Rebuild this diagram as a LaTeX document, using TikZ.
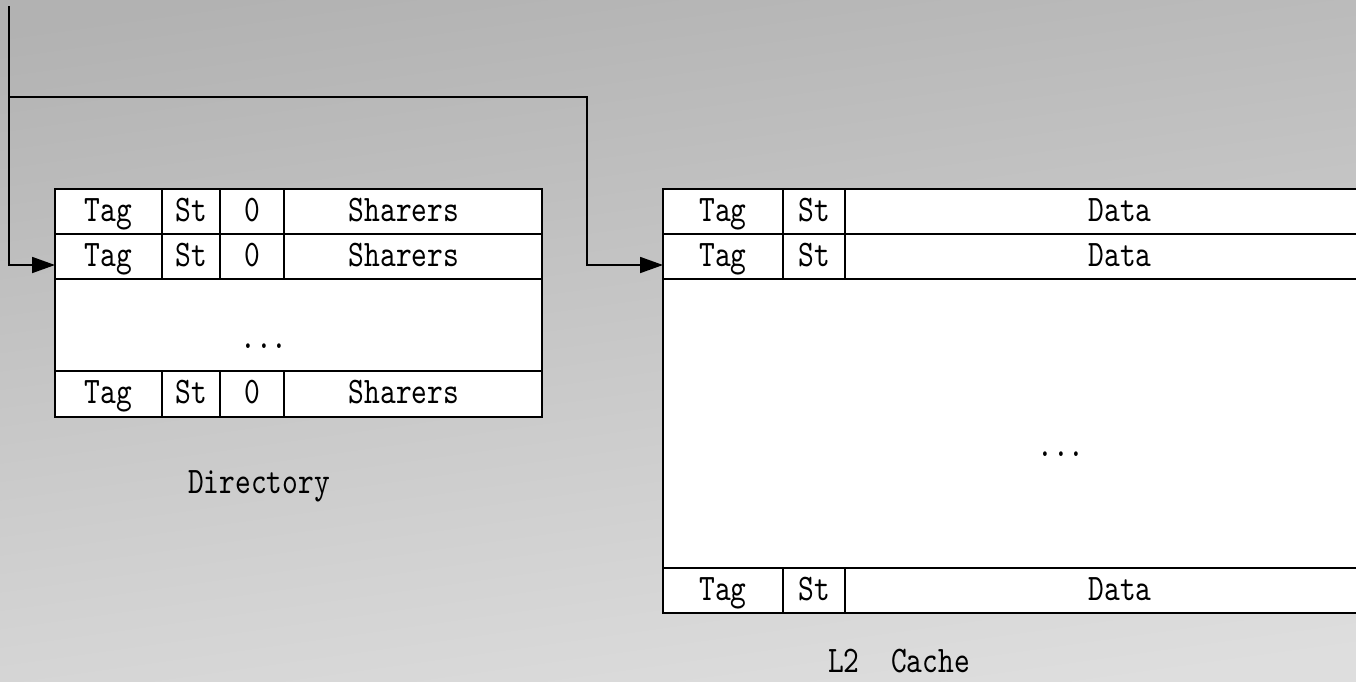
\documentclass[tikz,border=0pt]{standalone}
\usepackage{fontspec}
\usetikzlibrary{arrows.meta,fit}
% narrow, tall monospaced face for all labels
\newfontfamily\cellfont{lmmono10-regular}[Extension=.otf, FakeStretch=0.8]
\definecolor{bgtop}{RGB}{178,178,178}
\definecolor{bgbot}{RGB}{222,222,222}
\tikzset{
  cell/.style={rectangle, draw=black, line width=1.3pt, fill=white, inner sep=0pt, outer sep=0pt},
  rowline/.style={rectangle, draw=black, line width=2pt, inner sep=0pt, outer sep=0pt},
  txt/.style={inner sep=0pt, text height=19pt, text depth=0pt, font=\fontsize{37.5}{44}\cellfont},
  caption/.style={inner sep=0pt, anchor=base, font=\fontsize{37.5}{44}\cellfont},
  conn/.style={line width=1.8pt, line join=miter, -{Triangle[length=23pt,width=16pt]}}
}
\begin{document}
\begin{tikzpicture}[x=1pt,y=-1pt]
\useasboundingbox (0,0) rectangle (1356,681);
\clip (0,0) rectangle (1356,681);
% background
\shade[top color=bgtop, bottom color=bgbot, shading angle=8] (-20,-20) rectangle (1376,701);

% ---------------- Directory ----------------
\foreach \r/\yc/\h in {1/211.5/45, 2/256.5/45, 3/394/46} {
  \node[cell, minimum width=107, minimum height=\h] (dtag\r) at (108.5,\yc) {};
  \node[cell, minimum width=58,  minimum height=\h] (dst\r)  at (191,\yc) {};
  \node[cell, minimum width=64,  minimum height=\h] (dz\r)   at (252,\yc) {};
  \node[cell, minimum width=258, minimum height=\h] (dsh\r)  at (413,\yc) {};
  \node[rowline, fit=(dtag\r)(dsh\r)] (drow\r) {};
  \node[txt] (dtagT\r) at (108.5,\yc) {Tag};
  \node[txt] (dstT\r)  at (191,\yc) {St};
  \node[txt] (dzT\r)   at (252,\yc) {0};
  \node[txt] (dshT\r)  at (404,\yc) {Sharers};
}
\node[rowline, fill=white, minimum width=487, minimum height=92] (dbody) at (298.5,325) {};
\node[caption] (ddots) at (264,348) {...};
\node[caption] (dirlabel) at (259,493) {Directory};

% ---------------- L2 cache ----------------
\foreach \r/\yc/\h in {1/211.5/45, 2/256.5/45, 3/590.5/45} {
  \node[cell, minimum width=120, minimum height=\h] (ctag\r) at (723,\yc) {};
  \node[cell, minimum width=62,  minimum height=\h] (cst\r)  at (814,\yc) {};
  \node[cell, minimum width=555, minimum height=\h] (cdat\r) at (1122.5,\yc) {};
  \node[rowline, fit=(ctag\r)(cdat\r)] (crow\r) {};
  \node[txt] (ctagT\r) at (723,\yc) {Tag};
  \node[txt] (cstT\r)  at (814,\yc) {St};
  \node[txt] (cdatT\r) at (1120,\yc) {Data};
}
\node[rowline, fill=white, minimum width=737, minimum height=289] (cbody) at (1031.5,423.5) {};
\node[caption] (cdots) at (1061,456) {...};
\node[caption] (l2label) at (899,672) {L2\ \ Cache};

% ---------------- connectors ----------------
\coordinate (src) at (9,6);
\coordinate (split) at (9,97);
\coordinate (turn) at (587,97);
\coordinate (dirIn) at (55,265);
\coordinate (l2In) at (663,265);
\draw[conn] (src) |- (dirIn);
\draw[conn] (split) -- (turn) |- (l2In);
\end{tikzpicture}
\end{document}
